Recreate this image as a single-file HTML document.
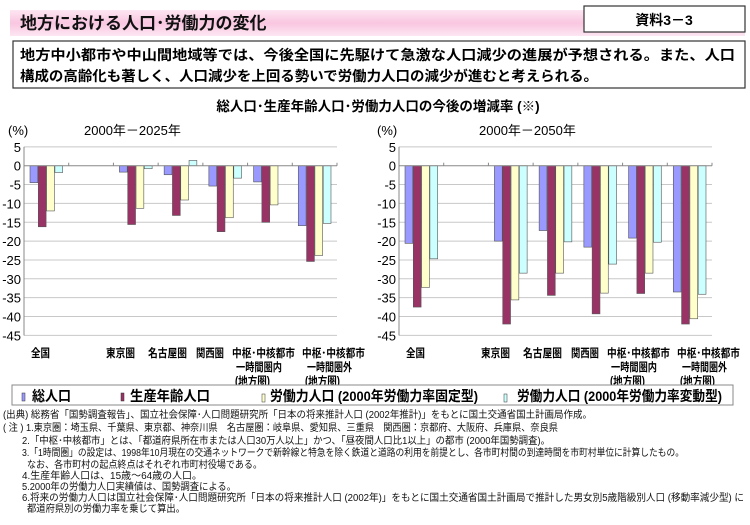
<!DOCTYPE html>
<html><head><meta charset="utf-8"><style>
body{margin:0;background:#fff;width:750px;height:520px;overflow:hidden;font-family:"Liberation Sans","Noto Sans CJK JP",sans-serif}
</style></head><body>
<svg width="750" height="520" xmlns="http://www.w3.org/2000/svg" font-family="Liberation Sans, Noto Sans CJK JP, sans-serif">
<defs><linearGradient id="pk" x1="0" y1="0" x2="0" y2="1"><stop offset="0" stop-color="#fde6f2"/><stop offset="0.5" stop-color="#f9c6e0"/><stop offset="1" stop-color="#fde6f2"/></linearGradient></defs>
<rect x="10" y="10" width="735" height="26" fill="url(#pk)"/>
<text x="20" y="29" font-size="17" font-weight="bold" fill="#111">地方における人口･労働力の変化</text>
<rect x="584" y="6" width="161" height="26" fill="#fff" stroke="#333" stroke-width="1.2"/>
<text x="664" y="25" font-size="14" font-weight="bold" text-anchor="middle">資料3－3</text>
<rect x="13" y="41" width="732" height="47" fill="#fff" stroke="#333" stroke-width="1.2"/>
<text x="20" y="60" font-size="14" font-weight="bold" textLength="715" lengthAdjust="spacingAndGlyphs">地方中小都市や中山間地域等では、今後全国に先駆けて急激な人口減少の進展が予想される。また、人口</text>
<text x="20" y="81" font-size="14" font-weight="bold" textLength="578" lengthAdjust="spacingAndGlyphs">構成の高齢化も著しく、人口減少を上回る勢いで労働力人口の減少が進むと考えられる。</text>
<text x="378" y="111" font-size="13.5" font-weight="bold" text-anchor="middle">総人口･生産年齢人口･労働力人口の今後の増減率 (※)</text>
<text x="8" y="135" font-size="13">(%)</text>
<text x="84" y="135" font-size="13">2000年－2025年</text>
<text x="377" y="135" font-size="13">(%)</text>
<text x="479" y="135" font-size="13">2000年－2050年</text>
<g id="charts"></g>
<rect x="12" y="385" width="721" height="20" fill="#fff" stroke="#888"/>
<g font-size="14" font-weight="bold">
<rect x="22" y="393" width="3" height="8" fill="#9999ff" stroke="#333" stroke-width="0.5"/><text x="32" y="401" textLength="39" lengthAdjust="spacingAndGlyphs">総人口</text>
<rect x="121" y="393" width="3" height="8" fill="#993366" stroke="#333" stroke-width="0.5"/><text x="130" y="401" textLength="80" lengthAdjust="spacingAndGlyphs">生産年齢人口</text>
<rect x="262" y="394" width="3" height="8" fill="#ffffcc" stroke="#333" stroke-width="0.5"/><text x="270" y="401" textLength="208" lengthAdjust="spacingAndGlyphs">労働力人口 (2000年労働力率固定型)</text>
<rect x="504" y="394" width="3" height="8" fill="#ccffff" stroke="#333" stroke-width="0.5"/><text x="517" y="401" textLength="205" lengthAdjust="spacingAndGlyphs">労働力人口 (2000年労働力率変動型)</text>
</g>
<g font-size="10" fill="#111">
<text x="3" y="418" textLength="589" lengthAdjust="spacingAndGlyphs">(出典) 総務省「国勢調査報告」、国立社会保障･人口問題研究所「日本の将来推計人口 (2002年推計)」をもとに国土交通省国土計画局作成。</text>
<text x="3" y="431" textLength="555" lengthAdjust="spacingAndGlyphs">( 注 ) 1.東京圏：埼玉県、千葉県、東京都、神奈川県　名古屋圏：岐阜県、愛知県、三重県　関西圏：京都府、大阪府、兵庫県、奈良県</text>
<text x="22" y="444" textLength="528" lengthAdjust="spacingAndGlyphs">2.「中枢･中核都市」とは、「都道府県所在市または人口30万人以上」かつ、「昼夜間人口比1以上」の都市 (2000年国勢調査)。</text>
<text x="22" y="456" textLength="662" lengthAdjust="spacingAndGlyphs">3.「1時間圏」の設定は、1998年10月現在の交通ネットワークで新幹線と特急を除く鉄道と道路の利用を前提とし、各市町村間の到達時間を市町村単位に計算したもの。</text>
<text x="27" y="468" textLength="235" lengthAdjust="spacingAndGlyphs">なお、各市町村の起点終点はそれぞれ市町村役場である。</text>
<text x="22" y="479" textLength="180" lengthAdjust="spacingAndGlyphs">4.生産年齢人口は、15歳～64歳の人口。</text>
<text x="22" y="490" textLength="214" lengthAdjust="spacingAndGlyphs">5.2000年の労働力人口実績値は、国勢調査による。</text>
<text x="22" y="501" textLength="722" lengthAdjust="spacingAndGlyphs">6.将来の労働力人口は国立社会保障･人口問題研究所「日本の将来推計人口 (2002年)」をもとに国土交通省国土計画局で推計した男女別5歳階級別人口 (移動率減少型) に</text>
<text x="27" y="512" textLength="158" lengthAdjust="spacingAndGlyphs">都道府県別の労働力率を乗じて算出。</text>
</g>
</svg>
<script>
const ns="http://www.w3.org/2000/svg";
const g=document.getElementById("charts");
function el(t,a,txt){const e=document.createElementNS(ns,t);for(const k in a)e.setAttribute(k,a[k]);if(txt!==undefined)e.textContent=txt;g.appendChild(e);return e;}
const cols=["#9999ff","#993366","#ffffcc","#ccffff"];
const data=[
[[-4.5,-16.2,-12,-1.8],null,[-1.7,-15.6,-11.3,-0.8],[-2.4,-13.2,-9.1,1.4],[-5.4,-17.5,-13.8,-3.3],[-4.3,-15,-10.4,0],[-15.9,-25.4,-23.8,-15.3]],
[[-20.6,-37.5,-32.3,-24.7],null,[-20,-42,-35.6,-28.5],[-17.2,-34.4,-28.5,-20.2],[-21.6,-39.3,-33.8,-26.1],[-19.2,-33.9,-28.5,-20.3],[-33.5,-42,-40.6,-34.1]]];
const labs=[["全国",31,19,0],["東京圏",106,29,0],["名古屋圏",148,39,0],["関西圏",196,28,0],
["中枢･中核都市",232,63,0],["一時間圏内",236,46,1],["(地方圏)",235,35,2],
["中枢･中核都市",302,63,0],["一時間圏外",307,45,1],["(地方圏)",305,35,2]];
const y0=165.7,k=3.77;
[0,1].forEach(c=>{
 const off=c?375:0,ax=24+off,r=ax+313,sw=(r-ax)/7;
 for(let v=5;v>=-45;v-=5){const y=y0-v*k;
  if(v!==0) el("line",{x1:ax,x2:r,y1:y,y2:y,stroke:"#c8c8c8","stroke-width":1});
  el("text",{x:ax-3,y:y+5,"font-size":13,"text-anchor":"end"},String(v));}
 el("line",{x1:ax,x2:ax,y1:y0-5*k,y2:y0+45*k,stroke:"#888"});
 data[c].forEach((d,i)=>{ if(!d)return; const bx=ax+i*sw+6;
  d.forEach((v,j)=>{ if(v===0)return; const y=Math.min(y0,y0-v*k),h=Math.abs(v)*k;
   el("rect",{x:bx+j*8.3,y:y,width:7.8,height:h,fill:cols[j],stroke:"#555","stroke-width":0.6});});
 });
 el("line",{x1:ax,x2:r,y1:y0,y2:y0,stroke:"#888"});
 for(let i=1;i<=7;i++){const x=ax+i*sw;el("line",{x1:x,x2:x,y1:y0-3,y2:y0,stroke:"#888"});}
 labs.forEach(L=>el("text",{x:off+L[1],y:357+L[3]*14,"font-size":11.5,"font-weight":"bold",textLength:L[2],lengthAdjust:"spacingAndGlyphs"},L[0]));
});
</script>
</body></html>
